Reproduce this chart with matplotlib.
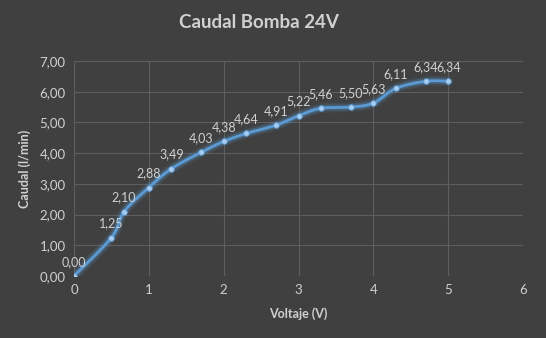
import numpy as np
import matplotlib.pyplot as plt
import matplotlib.patheffects as pe

voltaje = [0, 0.5, 0.67, 1.0, 1.3, 1.7, 2.0, 2.3, 2.7, 3.0, 3.3, 3.7, 4.0, 4.3, 4.7, 5.0]
caudal = [0.00, 1.25, 2.10, 2.88, 3.49, 4.03, 4.38, 4.64, 4.91, 5.22, 5.46, 5.50, 5.63, 6.11, 6.34, 6.34]
x_ticks = [0, 1, 2, 3, 4, 5, 6]
y_ticks = [0, 1, 2, 3, 4, 5, 6, 7]

BG = '#404040'
TXT = '#d0d0d0'
LINE = '#5b9bd5'

plt.rcParams['font.family'] = ['Lato', 'DejaVu Sans']


def smooth(x, y, n=20):
    # Excel-style smoothed line (Catmull-Rom bezier)
    x = np.asarray(x, float)
    y = np.asarray(y, float)
    px = np.concatenate([[x[0]], x, [x[-1]]])
    py = np.concatenate([[y[0]], y, [y[-1]]])
    xs, ys = [], []
    t = np.linspace(0, 1, n)
    for i in range(1, len(px) - 2):
        p0 = np.array([px[i], py[i]])
        p3 = np.array([px[i + 1], py[i + 1]])
        p1 = p0 + (p3 - np.array([px[i - 1], py[i - 1]])) / 6
        p2 = p3 - (np.array([px[i + 2], py[i + 2]]) - p0) / 6
        b = ((1 - t) ** 3)[:, None] * p0 + (3 * (1 - t) ** 2 * t)[:, None] * p1 \
            + (3 * (1 - t) * t ** 2)[:, None] * p2 + (t ** 3)[:, None] * p3
        xs.extend(b[:, 0])
        ys.extend(b[:, 1])
    return xs, ys


fig = plt.figure(figsize=(5.46, 3.38), dpi=100, facecolor=BG)
ax = fig.add_axes([0.1355, 0.1834, 0.8225, 0.6361], facecolor=BG)

sx, sy = smooth(voltaje, caudal)
glow = [pe.Stroke(linewidth=7, foreground=LINE, alpha=0.12),
        pe.Stroke(linewidth=4.5, foreground=LINE, alpha=0.25),
        pe.Normal()]
ax.plot(sx, sy, color=LINE, lw=2.0, path_effects=glow, zorder=3, solid_capstyle='round')
ax.plot(voltaje, caudal, 'o', ms=4, color='#a9cdf0', mec=LINE, mew=0.6, zorder=4)

for xv, yv in zip(voltaje, caudal):
    ax.annotate(f'{yv:.2f}'.replace('.', ','), (xv, yv), xytext=(0, 6),
                textcoords='offset points', ha='center', va='bottom',
                color=TXT, fontsize=9)

ax.set_xlim(0, 6)
ax.set_ylim(0, 7)
ax.set_xticks(x_ticks)
ax.set_yticks(y_ticks)
ax.set_yticklabels([f'{v:.2f}'.replace('.', ',') for v in y_ticks])
ax.grid(True, color='#5e5e5e', lw=0.8)
ax.set_axisbelow(True)
for s in ax.spines.values():
    s.set_visible(False)
ax.tick_params(length=0, colors=TXT, labelsize=9.5, pad=6)

ax.set_xlabel('Voltaje (V)', color=TXT, fontsize=9, fontweight='bold', labelpad=8)
ax.set_ylabel('Caudal (l/min)', color=TXT, fontsize=9, fontweight='bold', labelpad=6)
fig.text(0.475, 0.932, 'Caudal Bomba 24V', ha='center', va='center',
         color=TXT, fontsize=13.5, fontweight='bold')

fig.savefig('out.png', dpi=100, facecolor=BG)
